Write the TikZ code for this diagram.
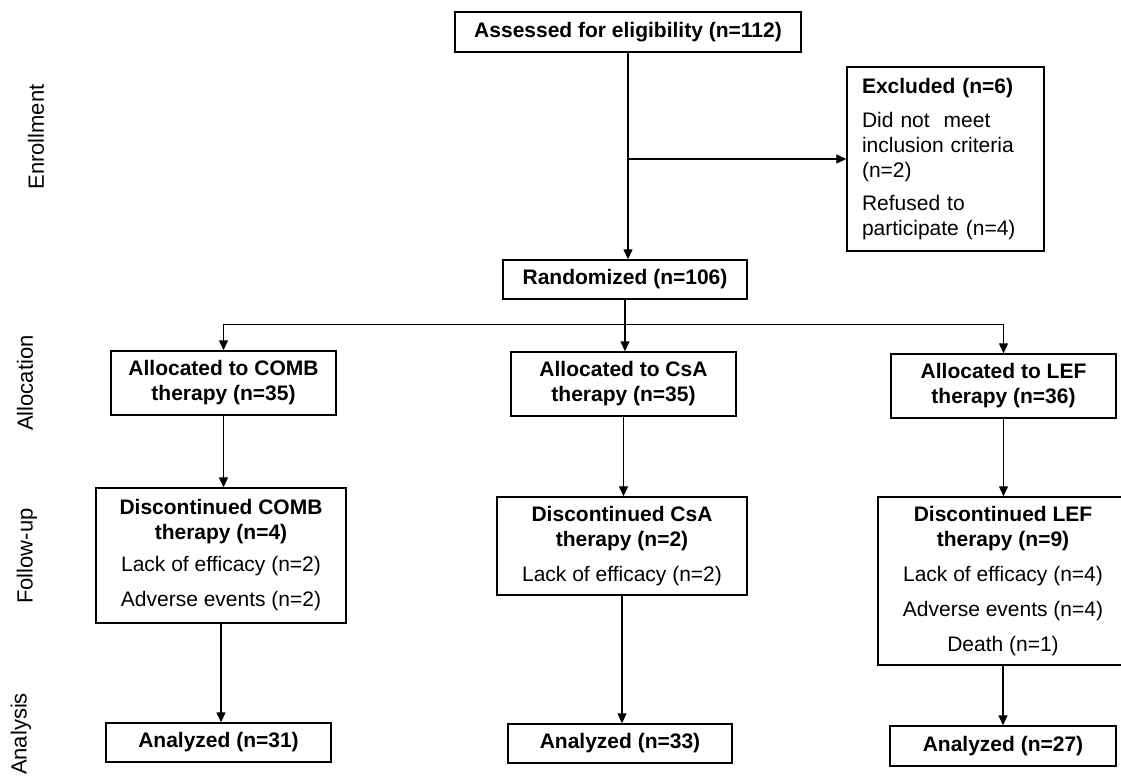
\documentclass[tikz,border=0pt]{standalone}
\usepackage{fontspec}
\setmainfont{Liberation Sans}
\usetikzlibrary{arrows.meta,calc}
\begin{document}
\begin{tikzpicture}[x=1pt,y=-1pt,
  box/.style={draw, line width=1.4pt, rectangle, inner sep=0pt, align=center, font=\fontsize{21}{25}\selectfont},
  arr/.style={line width=1.2pt, -{Triangle[length=10pt,width=9pt]}},
  ln/.style={line width=1.2pt},
  side/.style={rotate=90, font=\fontsize{22}{26}\selectfont}]
\useasboundingbox (0,0) rectangle (1121,777);

% phase labels
\node[side] (lenr) at (36,137) {Enrollment};
\node[side] (lall) at (25,383) {Allocation};
\node[side] (lfol) at (27,556) {Follow-up};
\node[side] (lana) at (21,734) {Analysis};

% boxes
\node[box, minimum width=346pt, minimum height=40pt] (assess) at (628,32) {\textbf{Assessed for eligibility (n=112)}};
\node[box, minimum width=197pt, minimum height=184pt, text width=167pt, inner xsep=15pt, align=left] (excl) at (945.5,159)
  {\textbf{Excluded (n=6)}\\[9pt]Did not\ \ meet\\inclusion criteria\\(n=2)\\[8pt]Refused to\\participate (n=4)};
\node[box, minimum width=244pt, minimum height=39pt] (rand) at (625,279.5) {\textbf{Randomized (n=106)}};

\node[box, minimum width=225pt, minimum height=64pt] (allocA) at (223.5,383) {\textbf{Allocated to COMB}\\\textbf{therapy (n=35)}};
\node[box, minimum width=225pt, minimum height=64pt] (allocB) at (623.5,384) {\textbf{Allocated to CsA}\\\textbf{therapy (n=35)}};
\node[box, minimum width=225pt, minimum height=64pt] (allocC) at (1003.5,386) {\textbf{Allocated to LEF}\\\textbf{therapy (n=36)}};

\node[box, minimum width=250pt, minimum height=135pt] (discA) at (221,555.5)
  {\textbf{Discontinued COMB}\\\textbf{therapy (n=4)}\\[7pt]Lack of efficacy (n=2)\\[10pt]Adverse events (n=2)};
\node[box, minimum width=250pt, minimum height=98pt] (discB) at (622,546)
  {\textbf{Discontinued CsA}\\\textbf{therapy (n=2)}\\[10pt]Lack of efficacy (n=2)};
\node[box, minimum width=250pt, minimum height=168pt] (discC) at (1003,581)
  {\textbf{Discontinued LEF}\\\textbf{therapy (n=9)}\\[10pt]Lack of efficacy (n=4)\\[10pt]Adverse events (n=4)\\[10pt]Death (n=1)};

\node[box, minimum width=225pt, minimum height=39pt] (anaA) at (218.5,742.5) {\textbf{Analyzed (n=31)}};
\node[box, minimum width=224pt, minimum height=39pt] (anaB) at (620,743.5) {\textbf{Analyzed (n=33)}};
\node[box, minimum width=226pt, minimum height=40pt] (anaC) at (1003,746) {\textbf{Analyzed (n=27)}};

% connectors
\draw[arr] (assess.south) -- (assess.south |- rand.north);
\coordinate (j1) at (assess.south |- excl.west);
\draw[arr] (j1) -- (excl.west);

\coordinate (br) at ($(rand.south)+(0,25)$);
\draw[ln] (rand.south) -- (br);
\draw[arr] (br) -| (allocA.north);
\draw[arr] (br) -- (br |- allocB.north);
\draw[arr] (br) -| (allocC.north);

\draw[arr] (allocA.south) -- (allocA.south |- discA.north);
\draw[arr] (allocB.south) -- (allocB.south |- discB.north);
\draw[arr] (allocC.south) -- (allocC.south |- discC.north);

\draw[arr] (discA.south) -- (discA.south |- anaA.north);
\draw[arr] (discB.south) -- (discB.south |- anaB.north);
\draw[arr] (discC.south) -- (discC.south |- anaC.north);
\end{tikzpicture}
\end{document}
